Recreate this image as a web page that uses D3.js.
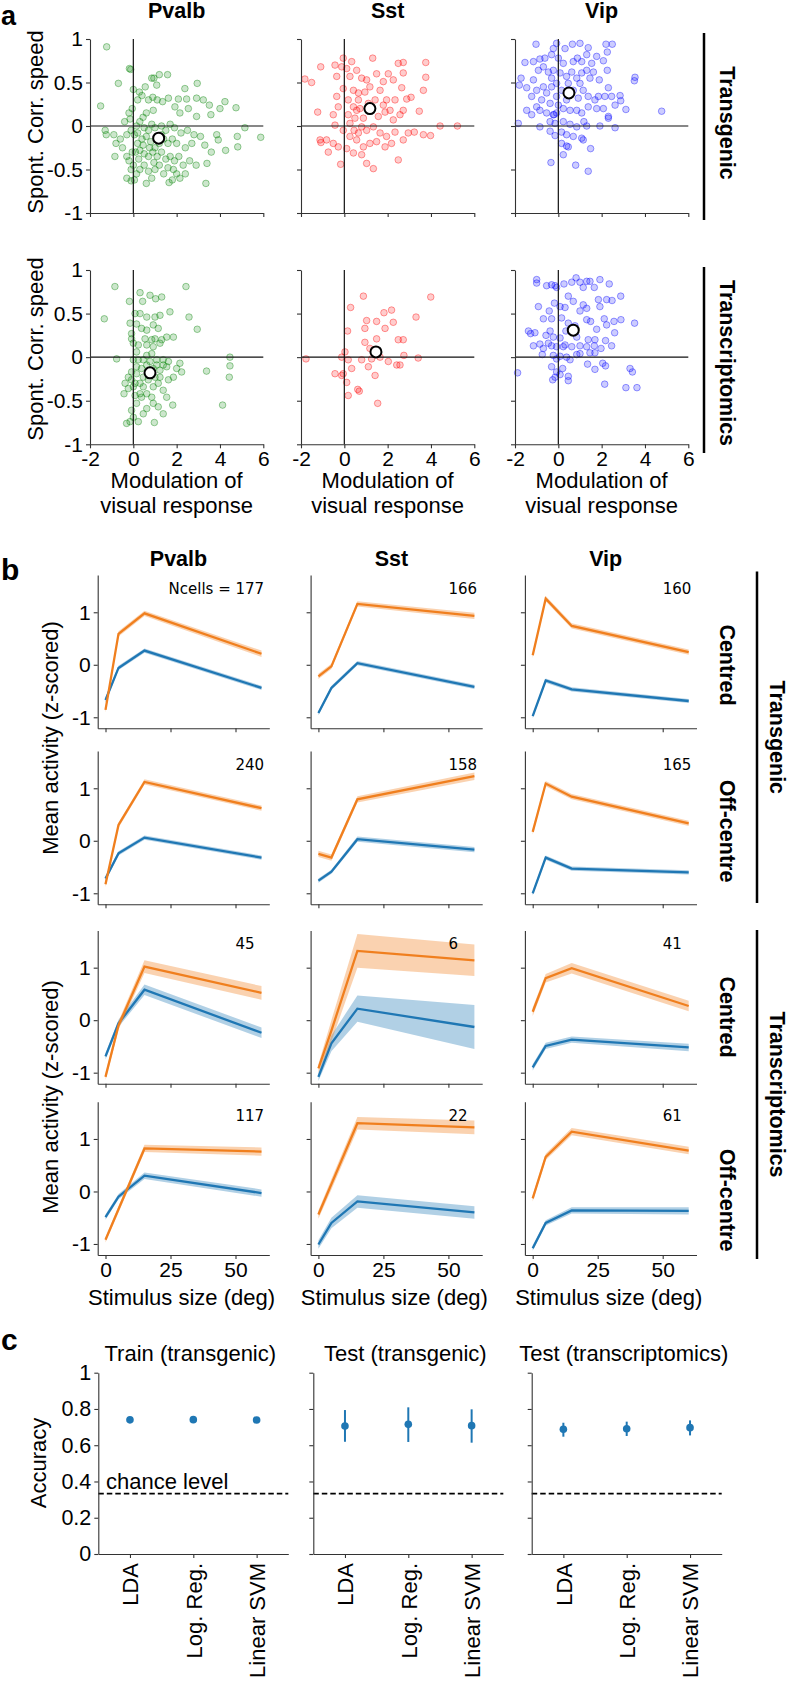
<!DOCTYPE html>
<html><head><meta charset="utf-8">
<script src="https://cdn.jsdelivr.net/npm/d3@7"></script>
<style>
body{margin:0;background:#fff}
svg{display:block}
text{font-family:"Liberation Sans",Arial,sans-serif;fill:#000}
</style></head>
<body><svg id="fig" width="800" height="1681"></svg>
<script>
// ---------------- DATA ----------------
const cellTypes = ["Pvalb", "Sst", "Vip"];
const datasets = ["Transgenic", "Transcriptomics"];
const conditions = ["Centred", "Off-centre"];
const scatterColors = ["#008000", "#ff0000", "#0000ff"];
const aXTicks = [-2, 0, 2, 4, 6];
const aYTicks = [-1, -0.5, 0, 0.5, 1];
const aYTickLabels = ["-1", "-0.5", "0", "0.5", "1"];

const scatterPvalbTransgenic = [[-1.23,0.91],[-0.18,0.66],[-0.12,0.65],[-0.69,0.49],[-1.51,0.23],[-1.3,-0.05],[-1.25,-0.1],[-0.9,-0.1],[-0.8,-0.2],[-0.6,-0.15],[-0.5,-0.25],[-0.85,-0.35],[-0.3,-0.1],[-0.4,0.05],[-0.2,0.15],[-0.15,0.08],[-0.1,-0.05],[-0.05,0.2],[0,0.42],[0.28,0.39],[0.2,0.3],[0.4,0.35],[0.55,0.45],[0.85,0.55],[0.95,0.55],[1.2,0.59],[1.58,0.59],[1.08,0.47],[0.7,0.3],[0.9,0.33],[1.1,0.3],[1.35,0.28],[1.62,0.32],[2.08,0.31],[2.46,0.31],[2.92,0.32],[3.23,0.3],[3.51,0.24],[4.0,0.2],[4.23,0.28],[4.74,0.21],[2.38,0.43],[2.95,0.49],[5.15,-0.02],[5.88,-0.13],[4.8,-0.12],[4.82,-0.24],[4.26,-0.28],[3.92,-0.16],[3.85,-0.1],[3.58,0.13],[2.92,0.11],[2.54,0.2],[2.15,0.15],[1.92,0.22],[0.92,0.18],[0.6,0.15],[0.45,0.1],[0.3,0.05],[0.15,0.0],[0.5,-0.02],[0.7,-0.05],[0.85,0.02],[1.0,-0.02],[1.3,0.0],[1.5,-0.05],[1.7,0.02],[1.9,-0.02],[2.2,-0.08],[2.5,-0.05],[2.8,-0.1],[3.1,-0.12],[3.3,-0.22],[3.6,-0.3],[2.7,-0.2],[2.4,-0.25],[2.0,-0.2],[1.8,-0.15],[1.6,-0.2],[1.4,-0.15],[1.2,-0.2],[1.0,-0.25],[0.8,-0.18],[0.6,-0.12],[0.4,-0.15],[0.2,-0.2],[0.05,-0.1],[0.1,-0.3],[0.3,-0.28],[0.5,-0.32],[0.7,-0.35],[0.9,-0.3],[1.1,-0.35],[1.3,-0.3],[1.5,-0.38],[1.7,-0.35],[1.9,-0.4],[2.1,-0.35],[2.3,-0.45],[2.6,-0.4],[2.9,-0.45],[3.4,-0.43],[2.4,-0.55],[3.35,-0.66],[-0.2,-0.4],[-0.1,-0.5],[0.0,-0.45],[0.15,-0.55],[0.3,-0.5],[0.5,-0.45],[0.7,-0.52],[0.85,-0.6],[1.0,-0.5],[1.2,-0.45],[1.4,-0.55],[1.6,-0.48],[1.8,-0.62],[1.65,-0.65],[2.0,-0.55],[2.15,-0.6],[-0.3,-0.6],[-0.1,-0.63],[0.05,-0.62],[0.6,-0.66],[1.85,-0.5],[0.95,-0.42],[0.25,-0.38],[-0.05,-0.3],[-0.3,-0.35],[0.45,-0.22],[0.75,-0.25],[1.3,-0.1],[0.2,-0.08]];
const scatterSstTransgenic = [[-1.82,0.54],[-1.51,0.5],[-1.09,0.68],[-1.23,0.16],[-0.74,-0.3],[-1.12,-0.16],[-1.08,-0.19],[-0.43,0.01],[-0.17,-0.44],[0.11,-0.26],[0.26,-0.12],[0.45,-0.05],[-0.12,0.68],[-0.05,0.78],[-0.43,0.7],[0.34,0.74],[0.11,0.66],[0.26,0.57],[0.57,0.64],[0.8,0.55],[1.03,0.53],[1.31,0.78],[1.49,0.6],[1.8,0.51],[2.03,0.6],[2.26,0.53],[2.49,0.72],[-0.35,0.34],[-0.05,0.43],[0.18,0.3],[0.42,0.41],[0.65,0.3],[0.95,0.39],[1.65,0.41],[1.95,0.3],[2.34,0.3],[0.18,0.13],[0.57,0.18],[0.88,0.09],[1.57,0.11],[1.88,0.16],[2.26,0.07],[2.57,0.13],[-0.05,-0.05],[0.65,-0.08],[1.03,-0.05],[1.34,-0.01],[1.65,-0.08],[1.95,-0.12],[2.34,-0.07],[0.57,-0.16],[0.88,-0.24],[1.18,-0.2],[1.49,-0.18],[1.88,-0.24],[2.18,-0.2],[0.8,-0.33],[1.03,-0.43],[1.34,-0.49],[0.42,-0.31],[2.49,-0.39],[-0.51,0.13],[-0.28,0.22],[-0.35,0.57],[0.42,0.22],[0.72,0.2],[1.11,0.26],[1.42,0.3],[1.8,0.24],[2.11,0.18],[0.65,0.38],[1.18,0.45],[0.26,0.03],[0.8,-0.01],[0.49,0.09],[-0.82,-0.16],[-0.51,-0.2],[-0.28,-0.24],[2.72,0.73],[3.76,0.73],[2.72,0.61],[3.76,0.56],[2.65,0.44],[3.65,0.41],[2.88,0.31],[3.08,0.33],[3.46,0.17],[2.72,0.18],[4.42,0.0],[5.22,0.0],[2.95,-0.08],[3.23,-0.07],[3.65,-0.1],[3.98,-0.11],[2.72,-0.16]];
const scatterVipTransgenic = [[-1.03,0.94],[-0.08,0.95],[0.65,0.94],[1.0,0.95],[1.38,0.9],[2.2,0.94],[2.49,0.94],[2.26,0.85],[-0.23,0.89],[0.31,0.89],[-1.54,0.73],[-1.15,0.74],[-0.85,0.77],[-0.62,0.78],[-0.31,0.82],[0,0.78],[0.23,0.72],[0.69,0.74],[0.88,0.78],[1.08,0.74],[1.31,0.82],[1.54,0.72],[1.77,0.8],[2.08,0.75],[2.26,0.64],[-1.72,0.55],[-1.8,0.47],[-1.46,0.44],[-1.15,0.53],[-0.92,0.64],[-0.69,0.68],[-0.46,0.62],[-0.23,0.64],[0.08,0.61],[0.38,0.57],[0.62,0.62],[0.85,0.55],[1.08,0.61],[1.31,0.64],[1.62,0.62],[1.89,0.53],[2.31,0.44],[3.54,0.56],[3.51,0.52],[2.46,0.34],[2.85,0.35],[2.88,0.29],[2.62,0.24],[3.12,0.19],[4.77,0.17],[2.31,0.09],[1.92,0.0],[2.62,-0.02],[1.31,0],[1.18,0.05],[-1.46,0.18],[-1.23,0.13],[-1.0,0.22],[-0.77,0.3],[-0.54,0.38],[-0.31,0.45],[-0.08,0.34],[0.15,0.41],[0.38,0.3],[0.69,0.41],[0.92,0.32],[1.15,0.41],[1.38,0.34],[1.69,0.3],[-0.85,0.18],[-0.54,0.15],[-0.23,0.13],[-0.08,0.15],[0.23,0.2],[0.54,0.18],[0.85,0.18],[1.08,0.15],[1.38,0.22],[1.77,0.2],[2.08,0.2],[-1.85,0.03],[-0.85,-0.01],[-0.38,0.05],[-0.15,0.03],[0.23,0.05],[0.54,0.02],[0.85,-0.01],[-0.38,-0.06],[-0.15,-0.11],[0.15,-0.07],[0.38,-0.1],[0.69,-0.12],[1.08,-0.14],[1.15,-0.16],[0.15,-0.2],[0.46,-0.24],[0.38,-0.23],[1.49,-0.26],[0.23,-0.33],[-0.34,-0.42],[0.8,-0.45],[1.38,-0.52],[-1.23,0.34],[-0.38,0.26],[-0.08,0.49],[0.46,0.49],[1.0,0.49],[-0.69,0.45],[-1.0,0.41],[-0.31,0.55],[1.46,0.55],[1.85,0.34],[2.15,0.34],[2.31,0.11],[0,0.24],[-0.2,0.13]];
const scatterPvalbTranscriptomics = [[-0.85,0.81],[-1.34,0.44],[-0.77,-0.02],[0.31,0.74],[-0.18,0.64],[0.43,0.64],[0.77,0.71],[1.03,0.67],[1.31,0.69],[2.43,0.81],[0.08,0.5],[0.31,0.5],[0.62,0.46],[1.0,0.46],[1.23,0.48],[1.69,0.52],[2.57,0.46],[2.95,0.32],[-0.15,0.39],[0.15,0.38],[0.38,0.33],[0.62,0.31],[0.92,0.37],[1.15,0.33],[-0.08,0.27],[-0.08,0.21],[0.54,0.21],[0.85,0.2],[1.0,0.21],[1.31,0.2],[1.54,0.23],[1.85,0.23],[0.23,0.14],[0.62,0.14],[0.92,0.12],[1.23,0.16],[0.15,0.06],[0.62,0.02],[0.85,0.04],[4.46,0],[4.46,-0.1],[4.43,-0.23],[3.38,-0.16],[4.12,-0.55],[2.23,-0.17],[2.15,-0.07],[2.0,-0.13],[1.85,-0.23],[1.62,-0.26],[1.38,-0.09],[1.54,-0.11],[1.23,-0.15],[1.08,-0.09],[0.92,-0.13],[0.62,-0.09],[0.38,-0.13],[0.15,-0.11],[-0.08,-0.17],[-0.23,-0.23],[-0.38,-0.3],[-0.23,-0.36],[-0.43,-0.42],[0,-0.34],[0.31,-0.3],[0.46,-0.23],[0.69,-0.26],[0.92,-0.34],[1.15,-0.3],[1.38,-0.38],[1.54,-0.46],[1.82,-0.55],[1.38,-0.65],[1.15,-0.57],[0.92,-0.53],[0.62,-0.59],[0.46,-0.65],[0.23,-0.74],[-0.31,-0.76],[-0.15,-0.74],[0,-0.69],[-0.08,-0.61],[0.15,-0.53],[0.38,-0.46],[0.62,-0.42],[0.85,-0.46],[0.97,-0.75],[0.31,-0.42],[0.08,-0.44],[0.15,-0.19],[0,-0.03],[0.23,-0.03],[0.46,-0.03],[0.77,-0.05],[1.08,-0.03],[1.38,-0.03],[1.62,-0.05],[-0.08,-0.26],[0.08,-0.3],[0.46,-0.34],[1.0,-0.23],[1.23,-0.23],[0.69,-0.17],[0,0.16]];
const scatterSstTranscriptomics = [[-1.77,-0.02],[0.29,0.57],[0.15,0.3],[0.88,0.7],[1.03,0.42],[0.95,0.33],[1.49,0.41],[1.88,0.33],[1.83,0.51],[2.18,0.54],[2.26,0.4],[2.49,0.2],[1.49,0.21],[0.95,0.17],[1.18,0.1],[0.03,0.06],[-0.12,0],[0.18,-0.03],[0.34,-0.13],[0.8,-0.03],[1.11,-0.11],[1.26,-0.02],[1.65,0],[2.03,-0.05],[2.42,-0.09],[1.42,-0.21],[-0.43,-0.19],[-0.12,-0.21],[0.11,-0.29],[0.18,-0.44],[0.62,-0.37],[0.69,-0.39],[1.54,-0.53],[-0.05,-0.19],[3.99,0.69],[3.31,0.46],[2.72,0.2],[2.75,0.02],[3.41,-0.01],[2.57,-0.09]];
const scatterVipTranscriptomics = [[-1.0,0.89],[-1.0,0.85],[-0.54,0.82],[-0.31,0.83],[-0.15,0.82],[-0.08,0.8],[0.26,0.84],[0.62,0.86],[0.82,0.91],[1.0,0.86],[1.15,0.8],[1.31,0.87],[1.46,0.87],[1.66,0.8],[1.92,0.89],[2.35,0.84],[1.85,0.66],[2.23,0.66],[2.48,0.65],[2.88,0.7],[-0.92,0.58],[-0.42,0.53],[-0.18,0.62],[0.08,0.58],[0.31,0.57],[0.46,0.7],[0.69,0.64],[1.15,0.6],[1.0,0.53],[1.31,0.56],[1.92,0.58],[-0.69,0.44],[-0.31,0.44],[0.15,0.45],[0.46,0.39],[0.77,0.36],[1.31,0.43],[1.49,0.41],[2.12,0.44],[2.57,0.41],[2.89,0.43],[3.52,0.39],[2.23,0.37],[1.77,0.32],[2.6,0.28],[-1.38,0.3],[-1.28,0.27],[-1.08,0.28],[-0.38,0.3],[-0.57,0.25],[-0.23,0.23],[0.08,0.22],[0.35,0.3],[0.85,0.23],[1.38,0.2],[1.69,0.2],[2.18,0.19],[2.46,0.13],[-1.15,0.13],[-0.85,0.15],[-0.69,0.1],[-0.46,0.16],[-0.31,0.13],[-0.08,0.12],[0.23,0.12],[0.31,0.14],[0.62,0.12],[1.0,0.13],[1.31,0.12],[1.66,0.13],[1.97,0.1],[-0.74,0.03],[-0.23,0.02],[0.08,0.01],[0.38,0],[0.85,0.03],[1.0,0.04],[1.46,0.05],[1.69,0.05],[0.54,-0.03],[-1.88,-0.18],[-0.31,-0.11],[0.2,-0.13],[-0.08,-0.17],[0.08,-0.2],[-0.15,-0.23],[-0.26,-0.26],[0.46,-0.22],[0.46,-0.27],[1.35,-0.08],[1.69,-0.14],[2.05,-0.07],[2.18,-0.1],[2.14,-0.31],[3.12,-0.35],[3.31,-0.13],[3.42,-0.17],[3.63,-0.35],[-0.08,-0.02]];
// population means (open black circles)
const meanTransgenic = [[1.17,-0.14],[1.18,0.2],[0.49,0.38]];
const meanTranscriptomics = [[0.77,-0.18],[1.46,0.06],[0.69,0.31]];

// ---- panel b ----
const stimulusSizes = [0, 5, 15, 60];
const bXTicks = [0, 25, 50];
const bYTicks = [-1, 0, 1];
const nCells = [[177, 166, 160], [240, 158, 165], [45, 6, 41], [117, 22, 61]];
// rows: Transgenic-Centred, Transgenic-Off-centre, Transcriptomics-Centred, Transcriptomics-Off-centre
const orangeMean = [
  [[-0.86, 0.59, 0.98, 0.21], [-0.22, -0.03, 1.16, 0.93], [0.18, 1.26, 0.74, 0.24]],
  [[-0.83, 0.30, 1.12, 0.62], [-0.25, -0.32, 0.79, 1.23], [0.17, 1.09, 0.84, 0.33]],
  [[-1.08, -0.10, 1.02, 0.52], [-0.92, -0.20, 1.32, 1.14], [0.16, 0.80, 0.99, 0.27]],
  [[-0.92, -0.34, 0.82, 0.76], [-0.44, 0.14, 1.30, 1.22], [-0.13, 0.66, 1.14, 0.78]]
];
const blueMean = [
  [[-0.67, -0.06, 0.27, -0.44], [-0.92, -0.44, 0.03, -0.42], [-0.98, -0.30, -0.47, -0.69]],
  [[-0.72, -0.24, 0.06, -0.32], [-0.76, -0.59, 0.03, -0.17], [-1.00, -0.32, -0.53, -0.60]],
  [[-0.69, -0.06, 0.58, -0.24], [-1.08, -0.44, 0.22, -0.13], [-0.90, -0.49, -0.37, -0.52]],
  [[-0.49, -0.10, 0.30, -0.03], [-1.01, -0.60, -0.19, -0.40], [-1.08, -0.60, -0.36, -0.37]]
];
const orangeSem = [
  [[0.05, 0.05, 0.05, 0.06], [0.05, 0.05, 0.05, 0.06], [0.05, 0.05, 0.05, 0.05]],
  [[0.05, 0.05, 0.05, 0.05], [0.06, 0.06, 0.06, 0.07], [0.05, 0.05, 0.05, 0.05]],
  [[0.06, 0.08, 0.12, 0.13], [0.08, 0.20, 0.32, 0.30], [0.08, 0.08, 0.10, 0.10]],
  [[0.05, 0.06, 0.07, 0.08], [0.08, 0.10, 0.12, 0.13], [0.06, 0.06, 0.07, 0.07]]
];
const blueSem = [
  [[0.05, 0.04, 0.04, 0.04], [0.04, 0.04, 0.04, 0.04], [0.04, 0.04, 0.04, 0.04]],
  [[0.05, 0.04, 0.04, 0.04], [0.04, 0.04, 0.05, 0.05], [0.04, 0.04, 0.04, 0.04]],
  [[0.06, 0.07, 0.10, 0.10], [0.08, 0.15, 0.25, 0.42], [0.06, 0.06, 0.06, 0.07]],
  [[0.05, 0.05, 0.06, 0.07], [0.08, 0.10, 0.12, 0.12], [0.05, 0.05, 0.06, 0.07]]
];

// ---- panel c ----
const classifiers = ["LDA", "Log. Reg.", "Linear SVM"];
const cTitles = ["Train (transgenic)", "Test (transgenic)", "Test (transcriptomics)"];
const cYTicks = [0, 0.2, 0.4, 0.6, 0.8, 1];
const accuracy = [[0.740, 0.741, 0.739], [0.706, 0.715, 0.708], [0.688, 0.691, 0.697]];
const accuracyLow = [[0.738, 0.739, 0.737], [0.619, 0.618, 0.614], [0.647, 0.651, 0.654]];
const accuracyHigh = [[0.742, 0.743, 0.741], [0.794, 0.809, 0.798], [0.724, 0.730, 0.737]];
const chanceLevel = 0.333;

// ---------------- DRAW ----------------
const svg = d3.select("#fig");
const F = "Liberation Sans, Arial, sans-serif";
const spineCol = "#333";
const TICK_FS = 21, LABEL_FS = 22;

function styleAxis(g, fs) {
  g.selectAll(".domain").attr("stroke", spineCol).attr("stroke-width", 1.1);
  g.selectAll(".tick line").attr("stroke", spineCol).attr("stroke-width", 1.1);
  g.selectAll(".tick text").style("font-family", F).style("font-size", fs + "px").attr("fill", "#000");
}
function rotText(x, y, txt, angle, opts) {
  const t = svg.append("text").attr("transform", `translate(${x},${y}) rotate(${angle})`)
    .attr("text-anchor", opts.anchor || "middle").attr("dy", opts.dy || "0.35em")
    .style("font-size", (opts.size || LABEL_FS) + "px").style("font-weight", opts.bold ? "bold" : "normal")
    .text(txt);
  if (opts.family) t.style("font-family", opts.family);
  return t;
}

// ===== Panel a =====
const aCols = [90, 301, 515], aW = 173.3;
const aRows = [[39, 213], [270, 444.3]];
const scatterData = [
  [scatterPvalbTransgenic, scatterSstTransgenic, scatterVipTransgenic],
  [scatterPvalbTranscriptomics, scatterSstTranscriptomics, scatterVipTranscriptomics]
];
const meanData = [meanTransgenic, meanTranscriptomics];

svg.append("text").attr("x", 1).attr("y", 24.5).style("font-size", "27px").style("font-weight", "bold").text("a");

aRows.forEach((r, ri) => {
  cellTypes.forEach((ct, ci) => {
    const x = d3.scaleLinear().domain([-2, 6]).range([aCols[ci], aCols[ci] + aW]);
    const y = d3.scaleLinear().domain([-1, 1]).range([r[1], r[0]]);
    const g = svg.append("g");
    g.selectAll("circle.pt").data(scatterData[ri][ci]).enter().append("circle")
      .attr("cx", d => x(d[0])).attr("cy", d => y(d[1])).attr("r", 3.3)
      .attr("fill", scatterColors[ci]).attr("fill-opacity", 0.2)
      .attr("stroke", scatterColors[ci]).attr("stroke-opacity", 0.38).attr("stroke-width", 1);
    g.append("line").attr("x1", x(0)).attr("x2", x(0)).attr("y1", y(1)).attr("y2", y(-1)).attr("stroke", "#111").attr("stroke-width", 1.2);
    g.append("line").attr("x1", x(-2)).attr("x2", x(6)).attr("y1", y(0)).attr("y2", y(0)).attr("stroke", "#111").attr("stroke-width", 1.2);
    const m = meanData[ri][ci];
    g.append("circle").attr("cx", x(m[0])).attr("cy", y(m[1])).attr("r", 5.5)
      .attr("fill", "#fff").attr("stroke", "#000").attr("stroke-width", 2);
    const ax = g.append("g").attr("transform", `translate(0,${r[1]})`)
      .call(d3.axisBottom(x).tickValues(aXTicks).tickSize(4).tickSizeOuter(0).tickFormat(ri === 1 ? (d => String(d)) : () => ""));
    ax.selectAll(".tick text").attr("dy", "0.72em");
    styleAxis(ax, TICK_FS);
    const ay = g.append("g").attr("transform", `translate(${aCols[ci]},0)`)
      .call(d3.axisLeft(y).tickValues(aYTicks).tickSize(4).tickSizeOuter(0).tickFormat((d, i) => ci === 0 ? aYTickLabels[i] : ""));
    styleAxis(ay, TICK_FS);
    if (ri === 0) {
      svg.append("text").attr("x", aCols[ci] + aW / 2).attr("y", 18).attr("text-anchor", "middle")
        .style("font-size", "21.5px").style("font-weight", "bold").text(ct);
    } else {
      svg.append("text").attr("x", aCols[ci] + aW / 2).attr("y", 488).attr("text-anchor", "middle").style("font-size", LABEL_FS + "px").text("Modulation of");
      svg.append("text").attr("x", aCols[ci] + aW / 2).attr("y", 513).attr("text-anchor", "middle").style("font-size", LABEL_FS + "px").text("visual response");
    }
  });
  rotText(35, ri === 0 ? 122 : 349, "Spont. Corr. speed", -90, {});
  svg.append("line").attr("x1", 704).attr("x2", 704).attr("y1", ri === 0 ? 33 : 267).attr("y2", ri === 0 ? 220 : 453)
    .attr("stroke", "#000").attr("stroke-width", 2.5);
  rotText(728, ri === 0 ? 123 : 363, datasets[ri], 90, {size: 21.5, bold: true});
});

// ===== Panel b =====
const bCols = [97.7, 310.6, 524.9], bW = 171.6;
const bTops = [575, 751, 930.4, 1101.7], bH = 153.3;
const orangeCol = "#f07f1e", blueCol = "#1f77b4";

svg.append("text").attr("x", 1).attr("y", 580).style("font-size", "30px").style("font-weight", "bold").text("b");
cellTypes.forEach((ct, ci) => {
  svg.append("text").attr("x", bCols[ci] + bW / 2 - 5).attr("y", 566).attr("text-anchor", "middle")
    .style("font-size", "21.5px").style("font-weight", "bold").text(ct);
});

bTops.forEach((top, ri) => {
  cellTypes.forEach((ct, ci) => {
    const x = d3.scaleLinear().domain([-3, 63]).range([bCols[ci], bCols[ci] + bW]);
    const y = d3.scaleLinear().domain([-1.21, 1.71]).range([top + bH, top]);
    const g = svg.append("g");
    const series = [
      {m: blueMean[ri][ci], s: blueSem[ri][ci], c: blueCol},
      {m: orangeMean[ri][ci], s: orangeSem[ri][ci], c: orangeCol}
    ];
    series.forEach(sr => {
      const pts = stimulusSizes.map((v, k) => ({x: v, m: sr.m[k], s: sr.s[k]}));
      g.append("path").datum(pts)
        .attr("d", d3.area().x(d => x(d.x)).y0(d => y(d.m - d.s)).y1(d => y(d.m + d.s)))
        .attr("fill", sr.c).attr("fill-opacity", 0.35).attr("stroke", "none");
      g.append("path").datum(pts)
        .attr("d", d3.line().x(d => x(d.x)).y(d => y(d.m)))
        .attr("fill", "none").attr("stroke", sr.c).attr("stroke-width", 2.3);
    });
    const ax = g.append("g").attr("transform", `translate(0,${top + bH})`)
      .call(d3.axisBottom(x).tickValues(bXTicks).tickSize(4).tickSizeOuter(0).tickFormat(ri === 3 ? d3.format("d") : () => ""));
    ax.selectAll(".tick text").attr("dy", "0.72em");
    styleAxis(ax, TICK_FS);
    const ay = g.append("g").attr("transform", `translate(${bCols[ci]},0)`)
      .call(d3.axisLeft(y).tickValues(bYTicks).tickSize(4).tickSizeOuter(0).tickFormat(ci === 0 ? (d => String(d)) : () => ""));
    styleAxis(ay, TICK_FS);
    g.append("text").attr("x", x(50)).attr("y", y(1.45)).attr("dy", "0.35em")
      .style("font-family", "DejaVu Sans, sans-serif").style("font-size", "15px").text(nCells[ri][ci]);
    if (ri === 0 && ci === 0) {
      g.append("text").attr("x", x(50)).attr("y", y(1.45)).attr("dy", "0.35em").attr("text-anchor", "end")
        .style("font-family", "DejaVu Sans, sans-serif").style("font-size", "15px").attr("xml:space", "preserve").text("Ncells = ");
    }
    if (ri === 3) {
      svg.append("text").attr("x", bCols[ci] + bW / 2 - 2).attr("y", 1305).attr("text-anchor", "middle")
        .style("font-size", LABEL_FS + "px").text("Stimulus size (deg)");
    }
  });
});
const condCenters = [665, 831, 1017, 1200];
condCenters.forEach((cy, ri) => rotText(728, cy, conditions[ri % 2], 90, {size: 21.5, bold: true}));
[[571.6, 903], [930, 1259]].forEach((b, k) => {
  svg.append("line").attr("x1", 757).attr("x2", 757).attr("y1", b[0]).attr("y2", b[1]).attr("stroke", "#000").attr("stroke-width", 2.5);
  rotText(778, (b[0] + b[1]) / 2, datasets[k], 90, {size: 21.5, bold: true});
});
rotText(50, 738, "Mean activity (z-scored)", -90, {});
rotText(50, 1097, "Mean activity (z-scored)", -90, {});

// ===== Panel c =====
const cCols = [98.3, 313.3, 531.7], cW = 190, cTop = 1372.7, cBot = 1554;
svg.append("text").attr("x", 1).attr("y", 1350).style("font-size", "30px").style("font-weight", "bold").text("c");
cTitles.forEach((t, ci) => {
  const x = d3.scaleLinear().domain([-0.5, 2.5]).range([cCols[ci], cCols[ci] + cW]);
  const y = d3.scaleLinear().domain([0, 1]).range([cBot, cTop]);
  const g = svg.append("g");
  svg.append("text").attr("x", cCols[ci] + cW / 2 - 3).attr("y", 1361).attr("text-anchor", "middle").style("font-size", LABEL_FS + "px").text(t);
  g.append("line").attr("x1", x(-0.5)).attr("x2", x(2.5)).attr("y1", y(chanceLevel)).attr("y2", y(chanceLevel))
    .attr("stroke", "#000").attr("stroke-width", 1.6).attr("stroke-dasharray", "5.5,3");
  const idx = d3.range(classifiers.length);
  g.selectAll("line.err").data(idx).enter().append("line")
    .attr("x1", i => x(i)).attr("x2", i => x(i)).attr("y1", i => y(accuracyLow[ci][i])).attr("y2", i => y(accuracyHigh[ci][i]))
    .attr("stroke", blueCol).attr("stroke-width", 2);
  g.selectAll("circle.dot").data(idx).enter().append("circle")
    .attr("cx", i => x(i)).attr("cy", i => y(accuracy[ci][i])).attr("r", 3.8).attr("fill", blueCol);
  const ax = g.append("g").attr("transform", `translate(0,${cBot})`)
    .call(d3.axisBottom(x).tickValues(idx).tickSize(4).tickSizeOuter(0).tickFormat(i => classifiers[i]));
  styleAxis(ax, LABEL_FS);
  ax.selectAll(".tick text").attr("transform", "rotate(-90)").attr("text-anchor", "end")
    .attr("x", -9).attr("y", 0).attr("dy", "0.35em");
  const ay = g.append("g").attr("transform", `translate(${cCols[ci]},0)`)
    .call(d3.axisLeft(y).tickValues(cYTicks).tickSize(4).tickSizeOuter(0).tickFormat(ci === 0 ? (d => String(d)) : () => ""));
  styleAxis(ay, TICK_FS + 0.5);
  if (ci === 0) {
    svg.append("text").attr("x", 106).attr("y", 1489).style("font-size", LABEL_FS + "px").text("chance level");
  }
});
rotText(38, 1463, "Accuracy", -90, {});
</script>
</body></html>
